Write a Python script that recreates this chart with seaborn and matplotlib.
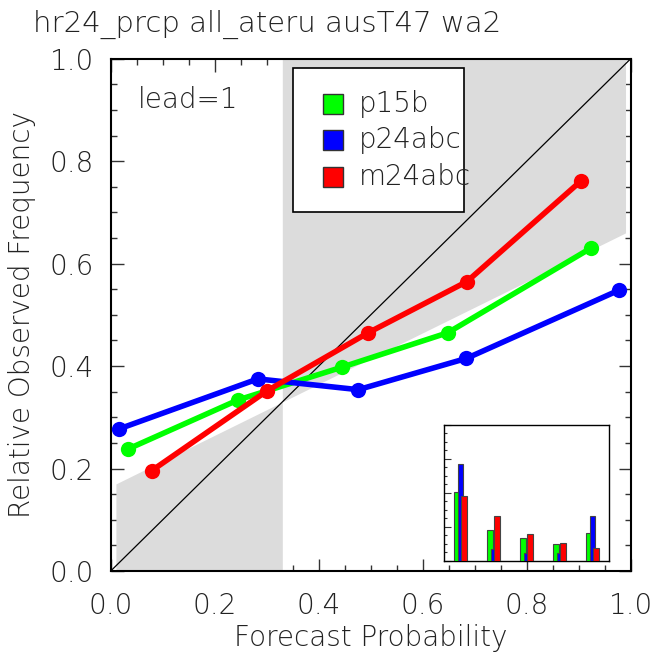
import numpy as np
import pandas as pd
import matplotlib
matplotlib.use("Agg")
import matplotlib.pyplot as plt
from matplotlib.patches import Rectangle
from matplotlib.ticker import MultipleLocator
import seaborn as sns

# ---------------- data ----------------
models = ["p15b", "p24abc", "m24abc"]
colors = ["#00ff00", "#0000ff", "#ff0000"]

p15b_x = [0.033, 0.245, 0.445, 0.648, 0.923]
p15b_y = [0.238, 0.334, 0.398, 0.465, 0.630]
p24abc_x = [0.015, 0.283, 0.476, 0.684, 0.977]
p24abc_y = [0.277, 0.375, 0.354, 0.415, 0.548]
m24abc_x = [0.079, 0.301, 0.495, 0.685, 0.905]
m24abc_y = [0.196, 0.352, 0.465, 0.565, 0.762]

# inset: fraction of forecasts per probability bin
bin_centers = [0.1, 0.3, 0.5, 0.7, 0.9]
p15b_freq = [0.408, 0.183, 0.138, 0.102, 0.162]
p24abc_freq = [0.571, 0.069, 0.045, 0.045, 0.264]
m24abc_freq = [0.382, 0.262, 0.160, 0.106, 0.077]

climatology = 0.33
gray_xmin, gray_xmax = 0.01, 0.99

title = "hr24_prcp all_ateru ausT47 wa2"
lead_label = "lead=1"
xlabel = "Forecast Probability"
ylabel = "Relative Observed Frequency"
ticks = [0.0, 0.2, 0.4, 0.6, 0.8, 1.0]
tick_labels = ["0.0", "0.2", "0.4", "0.6", "0.8", "1.0"]

# ---------------- style ----------------
sns.set_theme(style="white")
plt.rcParams["font.family"] = ["DejaVu Sans"]
plt.rcParams["font.weight"] = "light"
plt.rcParams["axes.labelweight"] = "light"
FS = 20
TXT = "#222222"

fig = plt.figure(figsize=(6.54, 6.54), dpi=100)
ax = fig.add_axes([0.1693, 0.1269, 0.7951, 0.7833])

# skill region (gray)
xl = np.array([gray_xmin, climatology])
ax.fill_between(xl, 0, (xl + climatology) / 2, color="#dcdcdc", lw=0, zorder=1)
xr = np.array([climatology, gray_xmax])
ax.fill_between(xr, (xr + climatology) / 2, 1, color="#dcdcdc", lw=0, zorder=1)

# perfect reliability diagonal
ax.plot([0, 1], [0, 1], color="black", lw=0.9, zorder=2)

df = pd.concat([
    pd.DataFrame({"model": "p15b", "x": p15b_x, "y": p15b_y}),
    pd.DataFrame({"model": "p24abc", "x": p24abc_x, "y": p24abc_y}),
    pd.DataFrame({"model": "m24abc", "x": m24abc_x, "y": m24abc_y}),
])
sns.lineplot(data=df, x="x", y="y", hue="model", hue_order=models,
             palette=colors, lw=4.0, marker="o", markersize=11,
             markeredgewidth=0, legend=False, ax=ax, zorder=3, sort=False)

ax.set_xlim(0, 1)
ax.set_ylim(0, 1)
ax.set_xticks(ticks)
ax.set_xticklabels(tick_labels)
ax.set_yticks(ticks)
ax.set_yticklabels(tick_labels)
ax.xaxis.set_minor_locator(MultipleLocator(0.05))
ax.yaxis.set_minor_locator(MultipleLocator(0.05))
ax.tick_params(which="both", direction="in", top=True, right=True,
               bottom=True, left=True, color="#333333", width=1.0)
ax.tick_params(which="major", length=9, labelsize=FS, labelcolor=TXT, pad=12)
ax.tick_params(axis="x", which="major", pad=15)
ax.tick_params(which="minor", length=4.5)
for s in ax.spines.values():
    s.set_color("black")
    s.set_linewidth(1.5)
ax.set_xlabel(xlabel, fontsize=FS, color=TXT, labelpad=3, fontweight="light")
ax.set_ylabel(ylabel, fontsize=FS, color=TXT, labelpad=10, fontweight="light")

# lead text
ax.text(0.053, 0.919, lead_label, transform=ax.transAxes, fontsize=FS,
        color=TXT, va="center", ha="left")

# legend box (manual, matching layout)
ax.add_patch(Rectangle((0.35, 0.700), 0.33, 0.281, transform=ax.transAxes,
                       facecolor="white", edgecolor="black", lw=1.2, zorder=5))
for i, (m, c) in enumerate(zip(models, colors)):
    yc = [0.9116, 0.8407, 0.7697][i]
    ax.add_patch(Rectangle((0.4077, yc - 0.0195), 0.0395, 0.039,
                           transform=ax.transAxes, facecolor=c,
                           edgecolor="#333333", lw=1.0, zorder=6))
    ax.text(0.4775, yc, m, transform=ax.transAxes, fontsize=FS, color=TXT,
            va="center", ha="left", zorder=6)

# title
fig.text(0.05, 0.963, title, fontsize=21, color=TXT, ha="left", va="center")

# inset histogram
iax = fig.add_axes([0.6789, 0.1422, 0.2523, 0.2080])
iax.set_facecolor("white")
bw = 0.036
off = 0.024
for k, (freq, c) in enumerate(zip([p15b_freq, p24abc_freq, m24abc_freq], colors)):
    iax.bar(np.array(bin_centers) + (k - 1) * off, freq, width=bw, color=c,
            edgecolor="#444444", linewidth=0.8, zorder=3 + k)
iax.set_xlim(0, 1)
iax.set_ylim(0, 0.8)
iax.yaxis.set_major_locator(MultipleLocator(0.2))
iax.yaxis.set_minor_locator(MultipleLocator(0.05))
iax.set_xticks([])
iax.tick_params(which="both", direction="in", left=True, labelleft=False,
                color="#333333", width=0.8)
iax.tick_params(which="major", length=5)
iax.tick_params(which="minor", length=2.5)
for s in iax.spines.values():
    s.set_color("black")
    s.set_linewidth(1.0)

fig.savefig("out.png", dpi=100)
